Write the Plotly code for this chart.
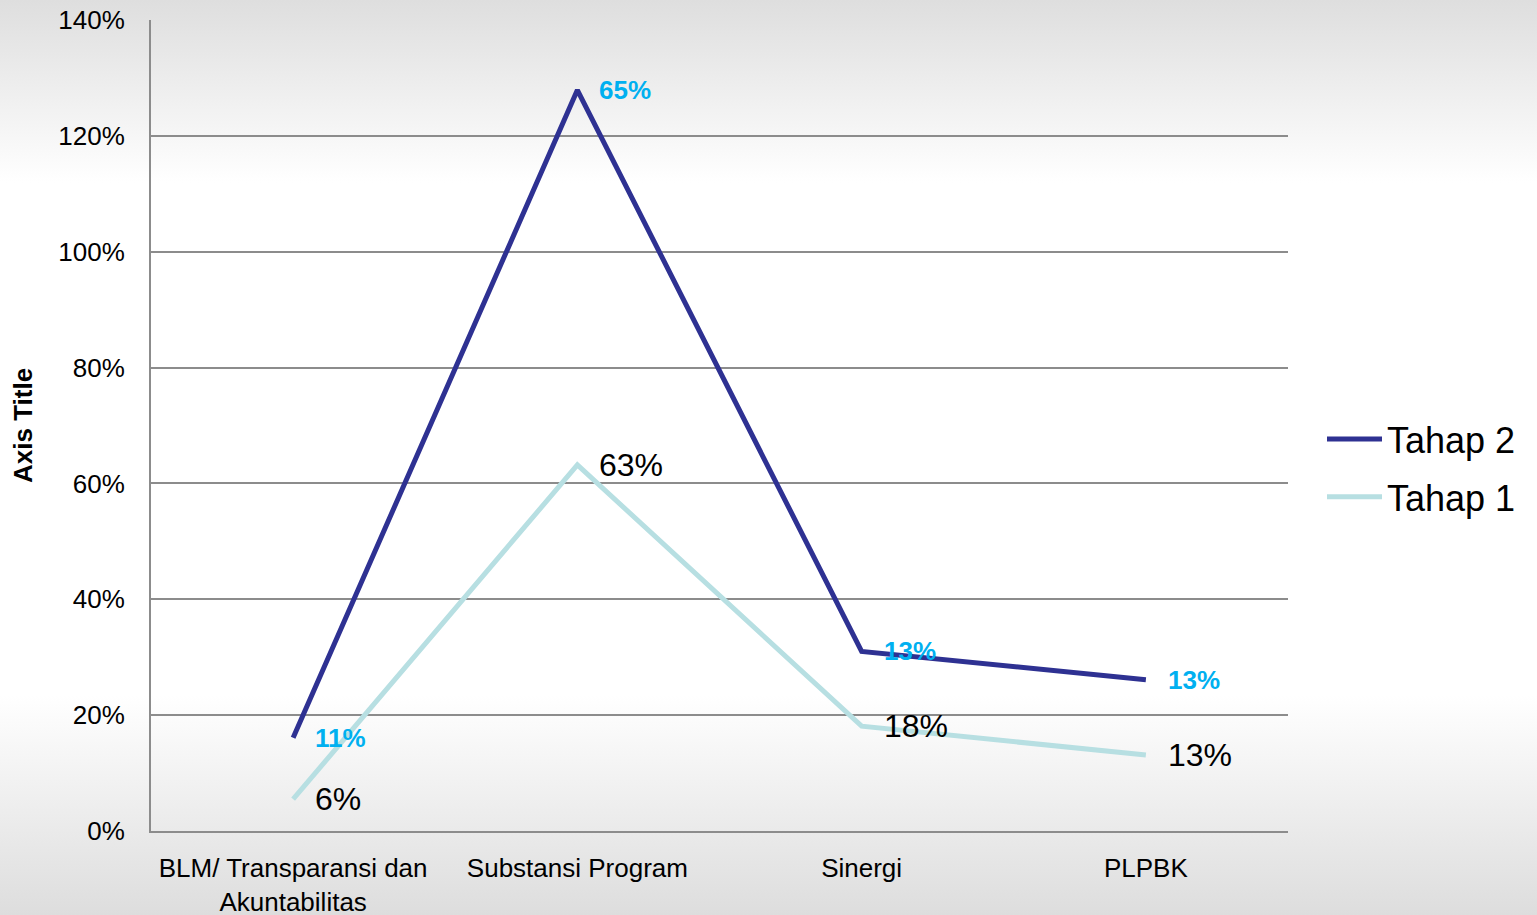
import base64
import plotly.graph_objects as go

categories = ["BLM/ Transparansi dan<br>Akuntabilitas", "Substansi Program", "Sinergi", "PLPBK"]
tahap1 = [0.055, 0.632, 0.181, 0.131]
tahap2 = [0.106, 0.647, 0.129, 0.130]
tahap1_labels = ["6%", "63%", "18%", "13%"]
tahap2_labels = ["11%", "65%", "13%", "13%"]
y_ticks = [0, 0.2, 0.4, 0.6, 0.8, 1.0, 1.2, 1.4]
y_tick_labels = ["0%", "20%", "40%", "60%", "80%", "100%", "120%", "140%"]

# stacked totals
stack2 = [a + b for a, b in zip(tahap1, tahap2)]

FONT = "Liberation Sans, Arial, sans-serif"
W, H = 1537, 915
L, R, T, B = 151, 249, 20, 84
pw, ph = W - L - R, H - T - B

fig = go.Figure()
fig.add_trace(go.Scatter(x=categories, y=stack2, mode="lines", name="Tahap 2",
                         legendgroup="g2",
                         line=dict(color="#2e3192", width=5)))
fig.add_trace(go.Scatter(x=categories, y=tahap1, mode="lines", name="Tahap 1",
                         legendgroup="g1",
                         line=dict(color="#b7dfe2", width=5)))

annotations = []
for c, v, t in zip(categories, tahap1, tahap1_labels):
    annotations.append(dict(x=c, y=v, text=t, showarrow=False, xanchor="left",
                            yanchor="middle", xshift=20,
                            font=dict(family=FONT, size=32, color="#000000")))
for c, v, t in zip(categories, stack2, tahap2_labels):
    annotations.append(dict(x=c, y=v, text="<b>" + t + "</b>", showarrow=False,
                            xanchor="left", yanchor="middle", xshift=20,
                            font=dict(family=FONT, size=26, color="#00b0f0")))
annotations.append(dict(x=(23 - L) / pw, y=(831 - 426) / ph, xref="paper", yref="paper",
                        text="<b>Axis Title</b>", textangle=-90, showarrow=False,
                        xanchor="center", yanchor="middle",
                        font=dict(family=FONT, size=26, color="#000000")))

svg = ('<svg xmlns="http://www.w3.org/2000/svg" width="100" height="100" preserveAspectRatio="none">'
       '<defs><linearGradient id="g" x1="0" y1="0" x2="0" y2="1">'
       '<stop offset="0" stop-color="#dedede"/>'
       '<stop offset="0.2" stop-color="#ffffff"/>'
       '<stop offset="0.76" stop-color="#ffffff"/>'
       '<stop offset="1" stop-color="#dddddd"/>'
       '</linearGradient></defs>'
       '<rect x="0" y="0" width="100" height="100" fill="url(#g)"/></svg>')
src = "data:image/svg+xml;base64," + base64.b64encode(svg.encode()).decode()

fig.update_layout(
    width=W, height=H,
    margin=dict(l=L, r=R, t=T, b=B, autoexpand=False),
    paper_bgcolor="#ffffff",
    plot_bgcolor="rgba(0,0,0,0)",
    font=dict(family=FONT, size=26, color="#000000"),
    showlegend=True,
    legend=dict(xref="container", yref="container", x=1322 / W, y=1 - 468 / H,
                xanchor="left", yanchor="middle",
                font=dict(family=FONT, size=36, color="#000000"),
                bgcolor="rgba(0,0,0,0)", tracegroupgap=8, itemwidth=55),
    annotations=annotations,
    images=[dict(source=src, xref="paper", yref="paper",
                 x=-L / pw, y=1 + T / ph, sizex=W / pw, sizey=H / ph,
                 xanchor="left", yanchor="top", sizing="stretch", layer="below")],
    xaxis=dict(type="category", range=[-0.5, 3.5], showgrid=False, automargin=False,
               showline=True, linecolor="#8c8c8c", linewidth=2,
               ticks="", ticklabelstandoff=13,
               tickfont=dict(family=FONT, size=26, color="#000000")),
    yaxis=dict(range=[0, 1.4], tickvals=y_ticks, ticktext=y_tick_labels, automargin=False,
               showgrid=True, gridcolor="#8c8c8c", gridwidth=2,
               showline=True, linecolor="#8c8c8c", linewidth=2,
               zeroline=False, ticks="", ticklabelstandoff=19,
               tickfont=dict(family=FONT, size=26, color="#000000")),
)

fig.write_html("out.html", config={"displayModeBar": False},
               post_script="document.body.style.margin='0';document.body.style.overflow='hidden';")
